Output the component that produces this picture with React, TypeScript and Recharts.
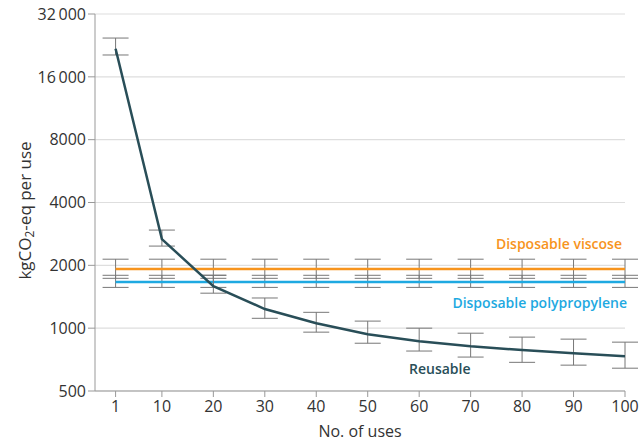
import { LineChart, Line, XAxis, YAxis, CartesianGrid, ErrorBar, ReferenceDot, Label } from "recharts";

const uses = [1, 10, 20, 30, 40, 50, 60, 70, 80, 90, 100];
const reusable = [21800, 2670, 1590, 1235, 1055, 935, 866, 819, 785, 759, 733];
const reusableLow = [20360, 2473, 1471, 1115, 957, 847, 777, 727, 686, 665, 643];
const reusableHigh = [24540, 2951, 1793, 1395, 1191, 1081, 1000, 946, 906, 886, 857];
const viscose = 1920;
const viscoseLow = 1733;
const viscoseHigh = 2140;
const polypropylene = 1662;
const polyLow = 1568;
const polyHigh = 1792;
const yTicks = [500, 1000, 2000, 4000, 8000, 16000, 32000];

const data = uses.map((u, i) => ({
  uses: u,
  reusable: reusable[i],
  reusableErr: [reusable[i] - reusableLow[i], reusableHigh[i] - reusable[i]],
  viscose,
  viscoseErr: [viscose - viscoseLow, viscoseHigh - viscose],
  poly: polypropylene,
  polyErr: [polypropylene - polyLow, polyHigh - polypropylene],
}));

const FONT = "'Open Sans', 'Liberation Sans', sans-serif";
const fmt = (v: number) => (v >= 10000 ? String(v).replace(/(\d\d)(\d{3})$/, "$1\u2009$2") : String(v));

const YLabel = (props: any) => {
  const { viewBox } = props;
  const x = 24;
  const y = viewBox.y + viewBox.height / 2 + 8;
  return (
    <text x={x} y={y} transform={`rotate(-90 ${x} ${y})`} textAnchor="middle" fill="#333" fontSize={17} fontFamily={FONT} dominantBaseline="central">
      kgCO<tspan fontSize={12} dy={5}>2</tspan>
      <tspan dy={-5}>-eq per use</tspan>
    </text>
  );
};

const tag = (text: string, color: string, anchor: string, dx = 0) => (props: any) => {
  const { viewBox } = props;
  return (
    <text x={viewBox.x + dx} y={viewBox.y} textAnchor={anchor} dominantBaseline="central" fill={color} fontSize={14} fontWeight={600} fontFamily={FONT}>
      {text}
    </text>
  );
};

export default function App() {
  return (
    <div style={{ position: "absolute", left: 0, top: 0 }}>
      <LineChart width={640} height={445} data={data} margin={{ top: 14, right: 15, bottom: 8, left: 15 }}>
        <CartesianGrid vertical={false} stroke="#dedede" strokeWidth={1.2} />
        <XAxis
          dataKey="uses"
          type="number"
          domain={[-3, 100]}
          ticks={uses}
          allowDataOverflow
          height={46}
          tickSize={6}
          tickMargin={4}
          stroke="#999"
          tick={{ fill: "#333", fontSize: 16, fontFamily: FONT }}
        >
          <Label value="No. of uses" position="insideBottom" offset={0} fill="#333" fontSize={16} fontFamily={FONT} />
        </XAxis>
        <YAxis
          type="number"
          scale="log"
          domain={[500, 32000]}
          ticks={yTicks}
          allowDataOverflow
          width={80}
          tickSize={7}
          stroke="#999"
          tickFormatter={fmt}
          tick={{ fill: "#333", fontSize: 16, fontFamily: FONT }}
        >
          <Label content={YLabel} />
        </YAxis>
        <Line dataKey="viscose" stroke="#f7941d" strokeWidth={2.5} dot={false} isAnimationActive={false}>
          <ErrorBar dataKey="viscoseErr" width={13} stroke="#777" strokeWidth={1} />
        </Line>
        <Line dataKey="poly" stroke="#1ea9e1" strokeWidth={2.5} dot={false} isAnimationActive={false}>
          <ErrorBar dataKey="polyErr" width={13} stroke="#777" strokeWidth={1} />
        </Line>
        <Line dataKey="reusable" stroke="#294e58" strokeWidth={2.5} dot={false} isAnimationActive={false}>
          <ErrorBar dataKey="reusableErr" width={13} stroke="#777" strokeWidth={1} />
        </Line>
        <ReferenceDot x={100} y={2555} r={0} fill="none" stroke="none" label={tag("Disposable viscose", "#f7941d", "end", -3)} />
        <ReferenceDot x={100} y={1321} r={0} fill="none" stroke="none" label={tag("Disposable polypropylene", "#1ea9e1", "end", 2)} />
        <ReferenceDot x={64} y={643} r={0} fill="none" stroke="none" label={tag("Reusable", "#294e58", "middle")} />
      </LineChart>
    </div>
  );
}
